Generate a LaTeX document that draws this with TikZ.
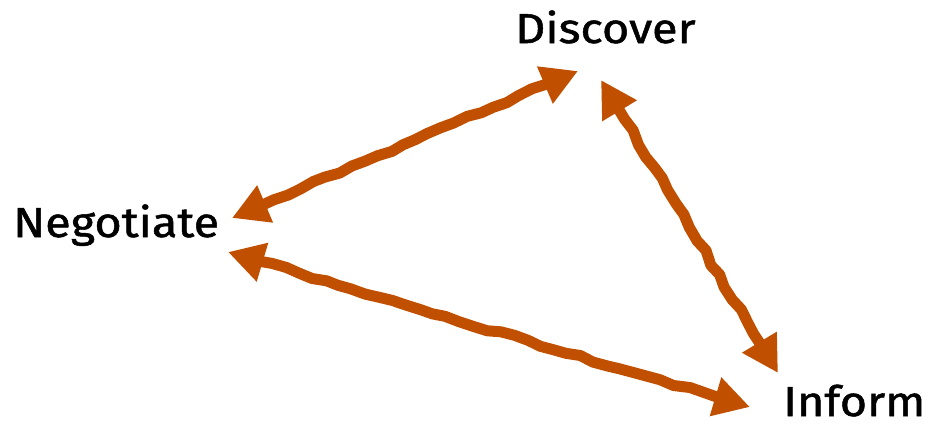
\documentclass[tikz,border=0pt]{standalone}
\usepackage{fontspec}
\setmainfont{Fira Sans}
\newfontfamily\lblfont{Fira Sans}[FakeStretch=1.12,FakeBold=1.2]
\usetikzlibrary{arrows.meta,decorations.pathmorphing}
\definecolor{rust}{RGB}{192,80,0}
\tikzset{
  lbl/.style={anchor=base west,inner sep=0pt,font=\lblfont\fontsize{42}{42}\selectfont},
  wavy/.style={draw=rust,line width=11bp,line join=round,line cap=round,
    decorate,decoration={random steps,segment length=14bp,amplitude=1.8bp,pre length=32bp,post length=32bp},
    {Triangle[length=36bp,width=38bp]}-{Triangle[length=36bp,width=38bp]}}
}
\begin{document}
\begin{tikzpicture}[x=1bp,y=-1bp]
\pgfmathsetseed{7}
\path[use as bounding box] (0,0) rectangle (937,428);
\node[lbl] (disc) at (515,43) {Discover};
\node[lbl] (neg) at (13,237) {Negotiate};
\node[lbl] (inf) at (783,416) {Inform};
\coordinate (a1) at (232,218);
\coordinate (b1) at (578,71);
\coordinate (a2) at (601,80);
\coordinate (b2) at (778,373);
\coordinate (a3) at (228,252);
\coordinate (b3) at (750,407);
\draw[wavy] (a1) -- (b1);
\draw[wavy] (a2) -- (b2);
\draw[wavy] (a3) -- (b3);
\end{tikzpicture}
\end{document}
